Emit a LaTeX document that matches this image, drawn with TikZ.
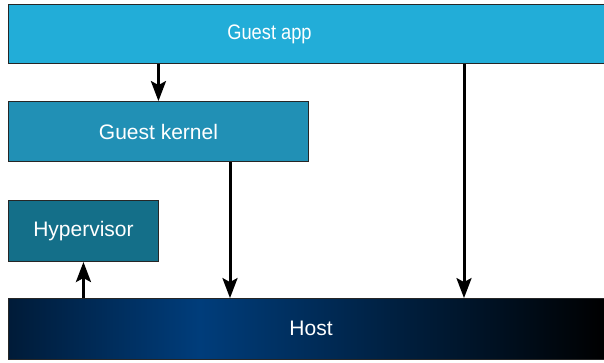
\documentclass[tikz,border=0pt]{standalone}
\usepackage{fontspec}
\setmainfont{Liberation Sans}
\usetikzlibrary{arrows.meta}
\definecolor{appblue}{HTML}{22ADD8}
\definecolor{kernblue}{HTML}{2190B5}
\definecolor{hypblue}{HTML}{146F89}
\definecolor{hostleft}{HTML}{001B38}
\definecolor{hostmid}{HTML}{003D7B}
\pgfdeclarehorizontalshading{hostshade}{100bp}{color(0bp)=(hostleft); color(25bp)=(hostleft); color(41bp)=(hostmid); color(75bp)=(black); color(100bp)=(black)}
\tikzset{
  layerbox/.style={draw=black!85,line width=0.9pt,inner sep=0pt,anchor=south west},
  lbl/.style={text=white,font=\fontsize{21}{24}\selectfont},
  callarr/.style={-{Stealth[length=20pt,width=15pt,inset=4pt]},line width=3pt,black},
}

\begin{document}
\begin{tikzpicture}[x=1pt,y=1pt]
  \useasboundingbox (0,0) rectangle (604,362);
  \node[layerbox,fill=appblue,minimum width=598pt,minimum height=59pt] (app) at (8,298) {};
  \node[layerbox,fill=kernblue,minimum width=300pt,minimum height=60pt,lbl] (kernel) at (8,200) {Guest kernel};
  \node[layerbox,fill=hypblue,minimum width=150pt,minimum height=61pt,lbl] (hyp) at (8,100) {Hypervisor};
  \node[layerbox,shading=hostshade,minimum width=598pt,minimum height=61pt] (host) at (8,2) {};
  \node[lbl] (applbl) at (269.5,328) {\scalebox{0.87}[1]{Guest app}};
  \node[lbl] (hostlbl) at (311,34) {Host};
  \coordinate (kx) at (230,0);
  \coordinate (ax) at (464,0);
  \draw[callarr] (kernel.north |- app.south) -- (kernel.north);
  \draw[callarr] (kernel.south -| kx) -- (host.north -| kx);
  \draw[callarr] (app.south -| ax) -- (host.north -| ax);
  \draw[callarr] (hyp.south |- host.north) -- (hyp.south);
\end{tikzpicture}
\end{document}
